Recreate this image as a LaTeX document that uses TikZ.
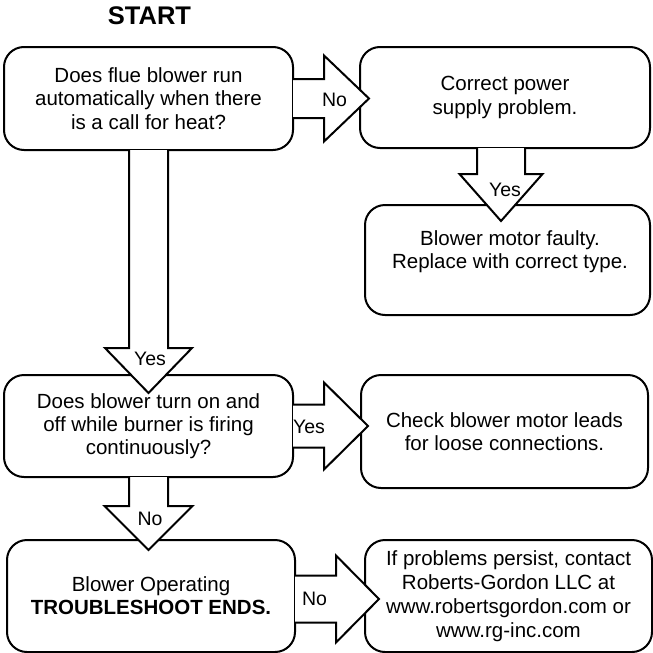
\documentclass[tikz,border=0pt]{standalone}
\usepackage{fontspec}
\setmainfont{Liberation Sans}
\usetikzlibrary{positioning, calc}

\tikzset{
  box/.style={draw, line width=2pt, rounded corners=20pt, align=center, inner sep=0pt,
    font=\fontsize{20.5}{23.3}\selectfont},
  flowline/.style={line width=2pt, line join=miter},
  answer/.style={inner sep=0pt, font=\fontsize{19.5}{23}\selectfont},
}

% block arrow: start, angle, shaft half width, shaft length, head half width, head length
\newcommand{\flowarrow}[6]{%
  \begin{scope}[shift={#1}, rotate=#2]
    \fill[white] (-1,#3) -- (#4,#3) -- (#4,#5) -- ({#4+#6},0) -- (#4,-#5) -- (#4,-#3) -- (-1,-#3) -- cycle;
    \draw[flowline] (-1,#3) -- (#4,#3) -- (#4,#5) -- ({#4+#6},0) -- (#4,-#5) -- (#4,-#3) -- (-1,-#3);
  \end{scope}}

\begin{document}
\begin{tikzpicture}[x=1pt, y=-1pt]
  \useasboundingbox (0,0) rectangle (653,653);

  \node[font=\bfseries\fontsize{25.5}{30}\selectfont, inner sep=0pt] (start) at (149.5,16) {START};

  % boxes
  \node[box, minimum width=289pt, minimum height=103pt] (blowerrun) at (148.5,98.5)
    {Does flue blower run\\automatically when there\\is a call for heat?};
  \node[box, minimum width=290pt, minimum height=101pt] (power) at (505,97.5)
    {Correct power\\supply problem.};
  \node[box, minimum width=285pt, minimum height=110pt] (faulty) at (507.5,260) {};
  \node[box, draw=none] (faulty text) at (510,252)
    {Blower motor faulty.\\Replace with correct type.};
  \node[box, minimum width=289pt, minimum height=102pt] (onoff) at (148.5,426)
    {Does blower turn on and\\off while burner is firing\\continuously?};
  \node[box, minimum width=287pt, minimum height=113pt] (leads) at (504.5,431.5)
    {Check blower motor leads\\for loose connections.};
  \node[box, minimum width=288pt, minimum height=112pt] (operating) at (151,596)
    {Blower Operating\\\textbf{TROUBLESHOOT ENDS.}};
  \node[box, minimum width=287pt, minimum height=112pt, font=\fontsize{20.5}{24}\selectfont] (contact) at (508.5,596)
    {If problems persist, contact\\Roberts-Gordon LLC at\\www.robertsgordon.com or\\www.rg-inc.com};

  % arrows
  \flowarrow{(blowerrun.east)}{0}{19.5}{30}{43}{45}
  \flowarrow{($(power.south)+(-4,0)$)}{-90}{24}{25}{41.5}{47}
  \flowarrow{(blowerrun.south)}{-90}{19.5}{197}{43.5}{45}
  \flowarrow{(onoff.east)}{0}{21.5}{30}{43.5}{44}
  \flowarrow{(onoff.south)}{-90}{19.5}{28}{44}{44}
  \flowarrow{($(operating.east)+(0,3)$)}{0}{23.5}{40}{43.5}{43}

  % answers
  \node[answer] (no1) at (334.5,100) {No};
  \node[answer] (yes1) at (505,190) {Yes};
  \node[answer] (yes2) at (150,358.5) {Yes};
  \node[answer] (yes3) at (309,426.5) {Yes};
  \node[answer] (no2) at (150,518.5) {No};
  \node[answer] (no3) at (314.5,598.5) {No};
\end{tikzpicture}
\end{document}
